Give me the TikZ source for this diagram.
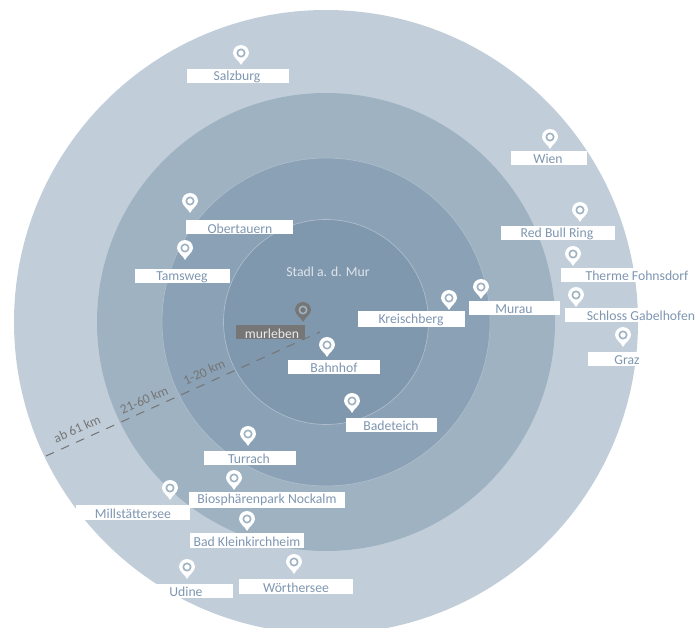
\documentclass[tikz,border=0pt]{standalone}
\usepackage{fontspec}
\setmainfont{Carlito}

\definecolor{ringa}{HTML}{C1CED9}
\definecolor{ringb}{HTML}{9FB2C2}
\definecolor{ringc}{HTML}{8AA1B6}
\definecolor{ringd}{HTML}{7F98AE}
\definecolor{placeblue}{HTML}{7F96B1}
\definecolor{darkgrey}{HTML}{767676}

\newcommand{\pinpath}{(0,12) .. controls (-2,7.5) and (-8,4.5) .. (-8,0) .. controls (-8,-4.4) and (-4.4,-8) .. (0,-8) .. controls (4.4,-8) and (8,-4.4) .. (8,0) .. controls (8,4.5) and (2,7.5) .. (0,12) -- cycle}

\tikzset{
  ringline/.style={draw=white!30!ringc, line width=.4pt},
  labelbox/.style={fill=white, draw=none},
  labeltext/.style={text=placeblue, font=\fontsize{7.8}{8}\selectfont, inner sep=0pt, yshift=-.5pt},
  kmtext/.style={text=darkgrey, font=\fontsize{7.6}{8}\selectfont, inner sep=0pt, rotate=24.3},
  mappin/.pic={
    \fill[white] \pinpath;
    \draw[ringb, line width=.9pt] (0,0) circle (3.7);
  },
  darkpin/.pic={
    \fill[darkgrey] \pinpath;
    \draw[ringb, line width=.9pt] (0,0) circle (3.7);
  }
}

\begin{document}
\begin{tikzpicture}[x=.02cm, y=-.02cm]

\useasboundingbox (0,0) rectangle (697,628);

% rings
\fill[ringa] (326,322) circle (312);
\fill[ringb] (326,322) circle (229);
\draw[ringline, fill=ringc] (326,322) circle (164);
\draw[ringline, fill=ringd] (326,322) circle (102.5);

% distances
\coordinate (dashstart) at (46,456);
\coordinate (dashend) at (320,332);
\node[kmtext] (kmfar) at (77,429) {ab 61 km};
\node[kmtext] (kmmid) at (144,400) {21-60 km};
\node[kmtext] (kmnear) at (204,372) {1-20 km};

% centre
\node[text=white!75!ringd, font=\fontsize{7.8}{8}\selectfont, inner sep=0pt] (stadl) at (328,272) {Stadl a. d. Mur};
\fill[darkgrey] (236,325) rectangle (305,339);
\node[labeltext, text=white!85!darkgrey] (murleben) at (272,333) {murleben};
\pic at (303,310) {darkpin};
\draw[darkgrey, dash pattern=on 5pt off 4.4pt, line width=.6pt] (dashstart) -- (dashend);

% places
\draw[labelbox] (187,69) rectangle (289,83);
\node[labeltext] (salzburg) at (237,76) {Salzburg};
\pic at (241,53) {mappin};

\draw[labelbox] (511,151) rectangle (587,165);
\node[labeltext] (wien) at (548,158) {Wien};
\pic at (550,137) {mappin};

\draw[labelbox] (186,220) rectangle (293,234);
\node[labeltext] (obertauern) at (240,228) {Obertauern};
\pic at (190,201) {mappin};

\draw[labelbox] (135,269) rectangle (230,283);
\node[labeltext] (tamsweg) at (182,276) {Tamsweg};
\pic at (185,248) {mappin};

\draw[labelbox] (501,226) rectangle (615,240);
\node[labeltext] (redbull) at (557,233) {Red Bull Ring};
\pic at (580,210) {mappin};

\draw[labelbox] (561,268) rectangle (690,282);
\node[labeltext] (fohnsdorf) at (637,275) {Therme Fohnsdorf};
\pic at (573,254) {mappin};

\draw[labelbox] (565,308) rectangle (695,322);
\node[labeltext] (gabelhofen) at (641,315) {Schloss Gabelhofen};
\pic at (576,295) {mappin};

\draw[labelbox] (588,352) rectangle (640,366);
\node[labeltext] (graz) at (627,359) {Graz};
\pic at (623,335) {mappin};

\draw[labelbox] (469,301) rectangle (560,315);
\node[labeltext] (murau) at (514,308) {Murau};
\pic at (481,287) {mappin};

\draw[labelbox] (358,311) rectangle (465,327);
\node[labeltext] (kreischberg) at (411,319) {Kreischberg};
\pic at (449,298) {mappin};

\draw[labelbox] (288,360) rectangle (380,374);
\node[labeltext] (bahnhof) at (334,367) {Bahnhof};
\pic at (327,345) {mappin};

\draw[labelbox] (346,418) rectangle (437,432);
\node[labeltext] (badeteich) at (391,425) {Badeteich};
\pic at (352,401) {mappin};

\draw[labelbox] (204,451) rectangle (296,465);
\node[labeltext] (turrach) at (249,458) {Turrach};
\pic at (248,434) {mappin};

\draw[labelbox] (189,492) rectangle (345,508);
\node[labeltext] (nockalm) at (267,499) {Biosphärenpark Nockalm};
\pic at (234,478) {mappin};

\draw[labelbox] (76,505) rectangle (190,520);
\node[labeltext] (millstatt) at (133,513) {Millstättersee};
\pic at (170,488) {mappin};

\draw[labelbox] (190,533) rectangle (304,548);
\node[labeltext] (kleinkirchheim) at (247,541) {Bad Kleinkirchheim};
\pic at (247,519) {mappin};

\draw[labelbox] (157,584) rectangle (233,598);
\node[labeltext] (udine) at (186,591) {Udine};
\pic at (187,567) {mappin};

\draw[labelbox] (239,579) rectangle (353,594);
\node[labeltext] (worthersee) at (296,587) {Wörthersee};
\pic at (294,562) {mappin};

\end{tikzpicture}
\end{document}
